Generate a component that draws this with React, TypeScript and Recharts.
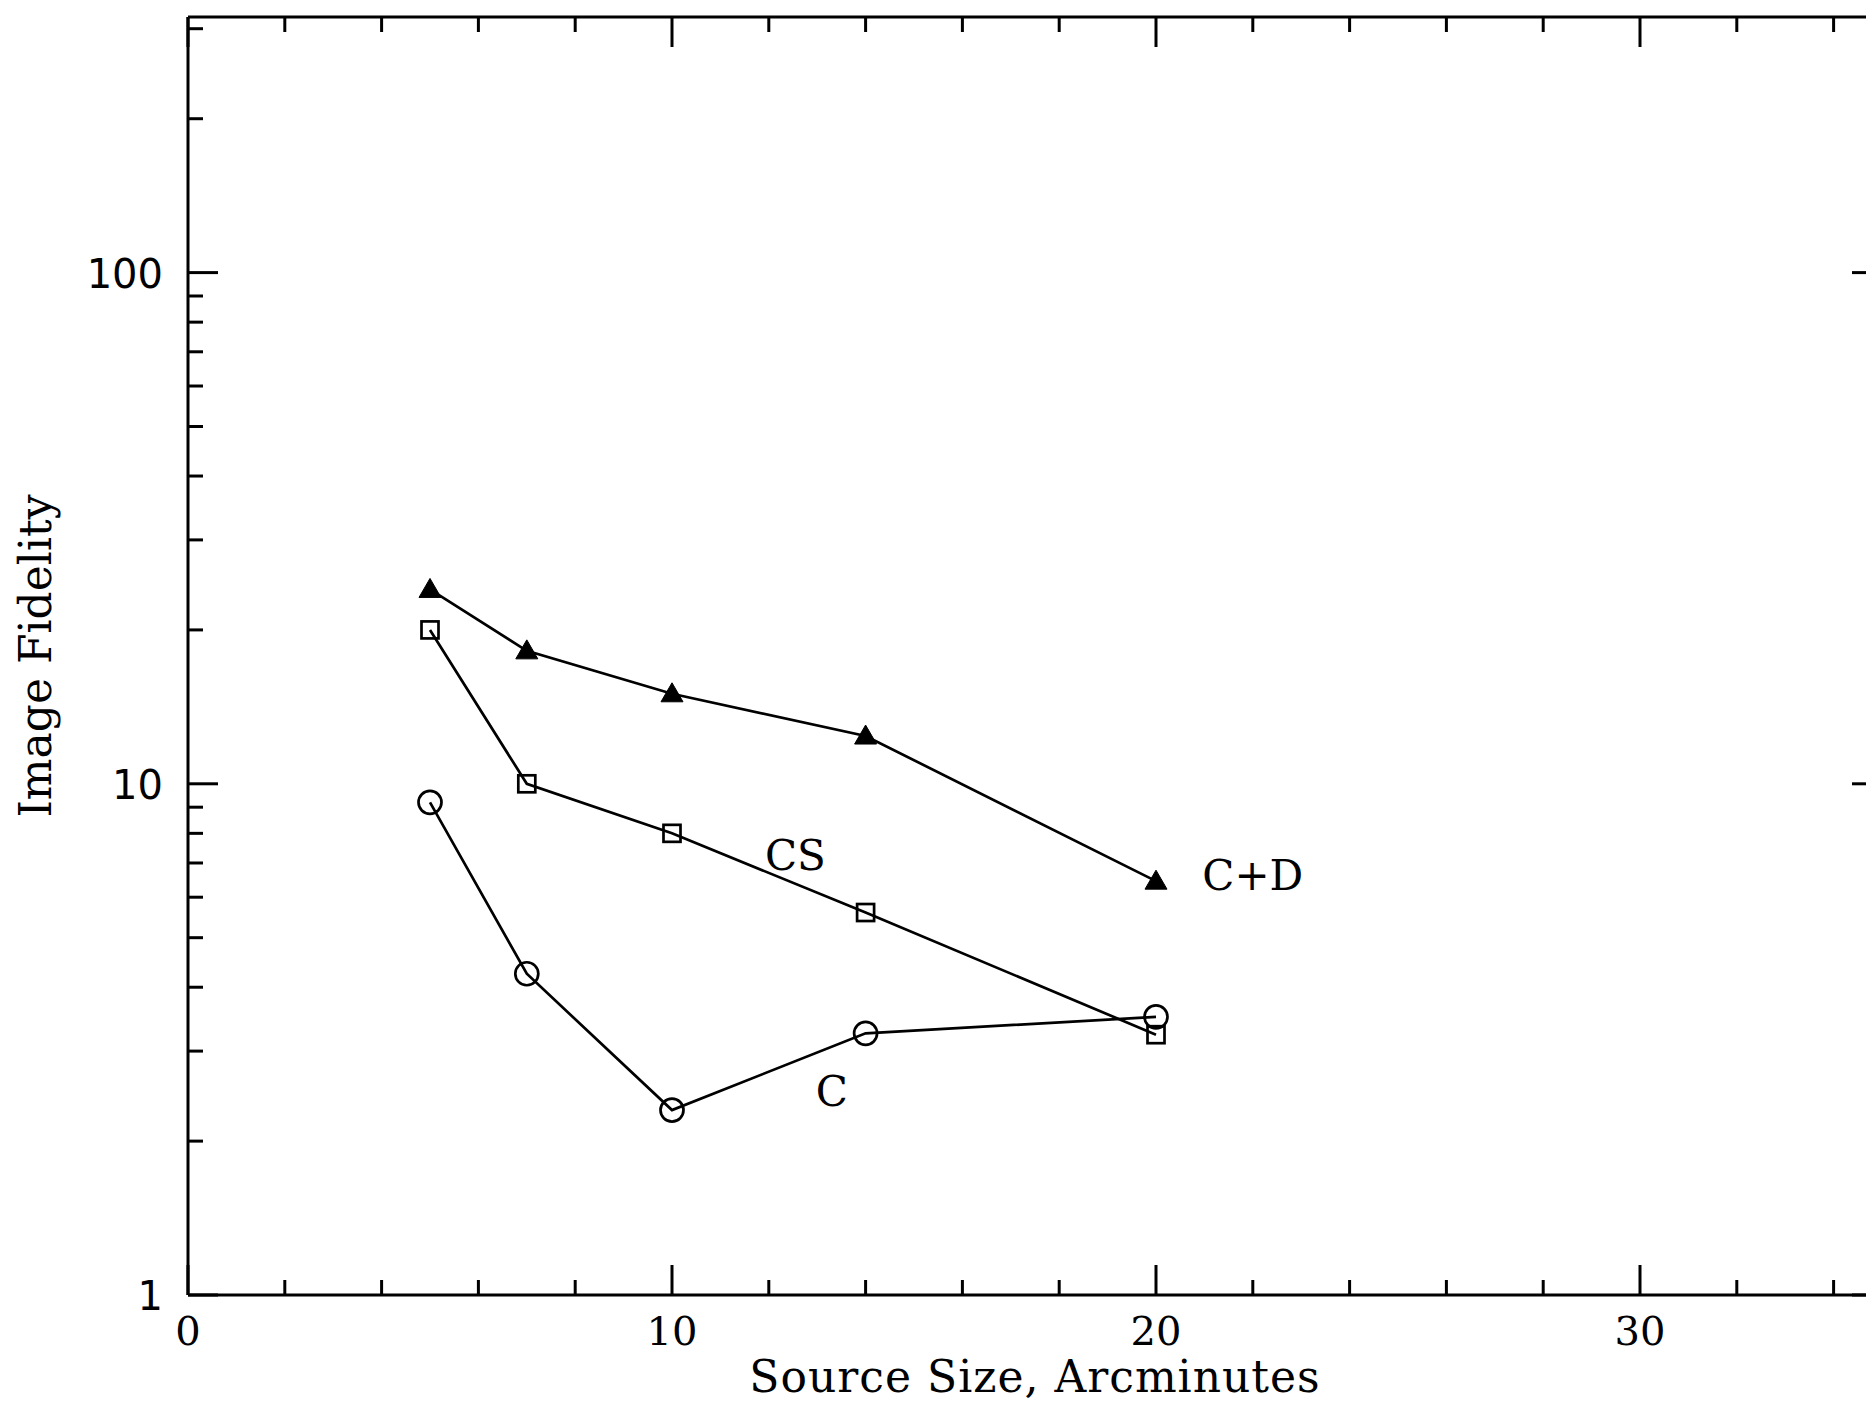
import React from 'react';
import { LineChart, Line, XAxis, YAxis, ReferenceDot } from 'recharts';

// Source size in arcminutes, and image fidelity for each imaging method
const sourceSize = [5, 7, 10, 14, 20];
const fidelityCD = [24.0, 18.2, 15.0, 12.4, 6.45];
const fidelityCS = [20.0, 10.0, 8.0, 5.6, 3.23];
const fidelityC = [9.2, 4.25, 2.3, 3.25, 3.5];

// Axis ticks
const xTicks = [0, 2, 4, 6, 8, 10, 12, 14, 16, 18, 20, 22, 24, 26, 28, 30, 32, 34];
const xLabelled = [0, 10, 20, 30];
const yTicks = [1, 2, 3, 4, 5, 6, 7, 8, 9, 10, 20, 30, 40, 50, 60, 70, 80, 90, 100, 200, 300];
const yLabelled = [1, 10, 100];

// Series names written next to their curves (data coordinates)
const seriesNames = ['C+D', 'CS', 'C'];
const seriesNameX = [22.0, 12.55, 13.3];
const seriesNameY = [6.63, 7.26, 2.51];

const rows = sourceSize.map((x, i) => ({
  x,
  cd: fidelityCD[i],
  cs: fidelityCS[i],
  c: fidelityC[i],
}));

const INK = '#000';
const SERIF = '"DejaVu Serif", serif';
const SANS = '"DejaVu Sans", sans-serif';
const MAJOR = 30;
const MINOR = 15;
const SW = 2.7;
const AXW = 3;

const BottomTick = (p: any) => {
  const { x, y, payload } = p;
  const major = xLabelled.includes(payload.value);
  return (
    <g>
      <line x1={x} x2={x} y1={y} y2={y - (major ? MAJOR : MINOR)} stroke={INK} strokeWidth={AXW} />
      {major && (
        <text x={x} y={y + 50} textAnchor="middle" fontFamily={SERIF} fontSize={40} fill={INK}>
          {payload.value}
        </text>
      )}
    </g>
  );
};

const TopTick = (p: any) => {
  const { x, y, payload } = p;
  const major = xLabelled.includes(payload.value);
  return <line x1={x} x2={x} y1={y} y2={y + (major ? MAJOR : MINOR)} stroke={INK} strokeWidth={AXW} />;
};

const LeftTick = (p: any) => {
  const { x, y, payload } = p;
  const major = yLabelled.includes(payload.value);
  return (
    <g>
      <line x1={x} x2={x + (major ? MAJOR : MINOR)} y1={y} y2={y} stroke={INK} strokeWidth={AXW} />
      {major && (
        <text x={x - 25} y={y + 15} textAnchor="end" fontFamily={SANS} fontSize={40} fill={INK}>
          {payload.value}
        </text>
      )}
    </g>
  );
};

const RightTick = (p: any) => {
  const { x, y, payload } = p;
  const major = yLabelled.includes(payload.value);
  return <line x1={x} x2={x - (major ? MAJOR : MINOR)} y1={y} y2={y} stroke={INK} strokeWidth={AXW} />;
};

const XTitle = (p: any) => {
  const vb = p.viewBox;
  return (
    <text
      x={vb.x + vb.width / 2}
      y={vb.y + 97}
      textAnchor="middle"
      fontFamily={SERIF}
      fontSize={44}
      letterSpacing={1}
      fill={INK}
    >
      Source Size, Arcminutes
    </text>
  );
};

const YTitle = (p: any) => {
  const vb = p.viewBox;
  const cx = vb.x - 53;
  const cy = vb.y + vb.height / 2;
  return (
    <text
      x={cx}
      y={cy}
      transform={`rotate(-90 ${cx} ${cy})`}
      textAnchor="middle"
      dominantBaseline="central"
      fontFamily={SERIF}
      fontSize={44}
      fill={INK}
    >
      Image Fidelity
    </text>
  );
};

const TriangleDot = (p: any) => {
  const { cx, cy } = p;
  if (cx == null || cy == null) return null;
  const w = 11;
  return (
    <path
      key={p.key}
      d={`M${cx},${cy - 11} L${cx + w},${cy + 8} L${cx - w},${cy + 8} Z`}
      fill={INK}
      stroke={INK}
      strokeWidth={1}
    />
  );
};

const SquareDot = (p: any) => {
  const { cx, cy } = p;
  if (cx == null || cy == null) return null;
  return <rect key={p.key} x={cx - 8.5} y={cy - 8.5} width={17} height={17} fill="none" stroke={INK} strokeWidth={SW} />;
};

const CircleDot = (p: any) => {
  const { cx, cy } = p;
  if (cx == null || cy == null) return null;
  return <circle key={p.key} cx={cx} cy={cy} r={11.5} fill="none" stroke={INK} strokeWidth={SW} />;
};

export default function App() {
  return (
    <div
      style={{
        position: 'absolute',
        left: 0,
        top: 0,
        width: 1866,
        height: 1401,
        overflow: 'hidden',
        background: '#fff',
      }}
    >
      <LineChart width={1900} height={1401} data={rows} margin={{ top: 7, right: 8, bottom: 0, left: 88 }}>
        <XAxis
          xAxisId="b"
          dataKey="x"
          type="number"
          domain={[0, 35]}
          allowDataOverflow
          ticks={xTicks}
          interval={0}
          tickSize={0}
          tickMargin={0}
          tick={BottomTick}
          tickLine={false}
          axisLine={{ stroke: INK, strokeWidth: AXW }}
          height={106}
          label={<XTitle />}
        />
        <XAxis
          xAxisId="t"
          orientation="top"
          dataKey="x"
          type="number"
          domain={[0, 35]}
          allowDataOverflow
          ticks={xTicks}
          interval={0}
          tickSize={0}
          tickMargin={0}
          tick={TopTick}
          tickLine={false}
          axisLine={{ stroke: INK, strokeWidth: AXW }}
          height={10}
        />
        <YAxis
          yAxisId="l"
          scale="log"
          type="number"
          domain={[1, 316.23]}
          allowDataOverflow
          ticks={yTicks}
          interval={0}
          tickSize={0}
          tickMargin={0}
          tick={LeftTick}
          tickLine={false}
          axisLine={{ stroke: INK, strokeWidth: AXW }}
          width={100}
          label={<YTitle />}
        />
        <YAxis
          yAxisId="r"
          orientation="right"
          scale="log"
          type="number"
          domain={[1, 316.23]}
          allowDataOverflow
          ticks={yTicks}
          interval={0}
          tickSize={0}
          tickMargin={0}
          tick={RightTick}
          tickLine={false}
          axisLine={{ stroke: INK, strokeWidth: AXW }}
          width={10}
        />
        <Line
          xAxisId="b"
          yAxisId="l"
          dataKey="cd"
          stroke={INK}
          strokeWidth={SW}
          dot={TriangleDot}
          activeDot={false}
          isAnimationActive={false}
        />
        <Line
          xAxisId="b"
          yAxisId="l"
          dataKey="cs"
          stroke={INK}
          strokeWidth={SW}
          dot={SquareDot}
          activeDot={false}
          isAnimationActive={false}
        />
        <Line
          xAxisId="b"
          yAxisId="l"
          dataKey="c"
          stroke={INK}
          strokeWidth={SW}
          dot={CircleDot}
          activeDot={false}
          isAnimationActive={false}
        />
        {seriesNames.map((name, i) => (
          <ReferenceDot
            key={name}
            xAxisId="b"
            yAxisId="l"
            x={seriesNameX[i]}
            y={seriesNameY[i]}
            r={1}
            fill="none"
            stroke="none"
            label={{
              value: name,
              position: 'center',
              fill: INK,
              fontSize: 42,
              fontFamily: SERIF,
            }}
          />
        ))}
      </LineChart>
    </div>
  );
}
